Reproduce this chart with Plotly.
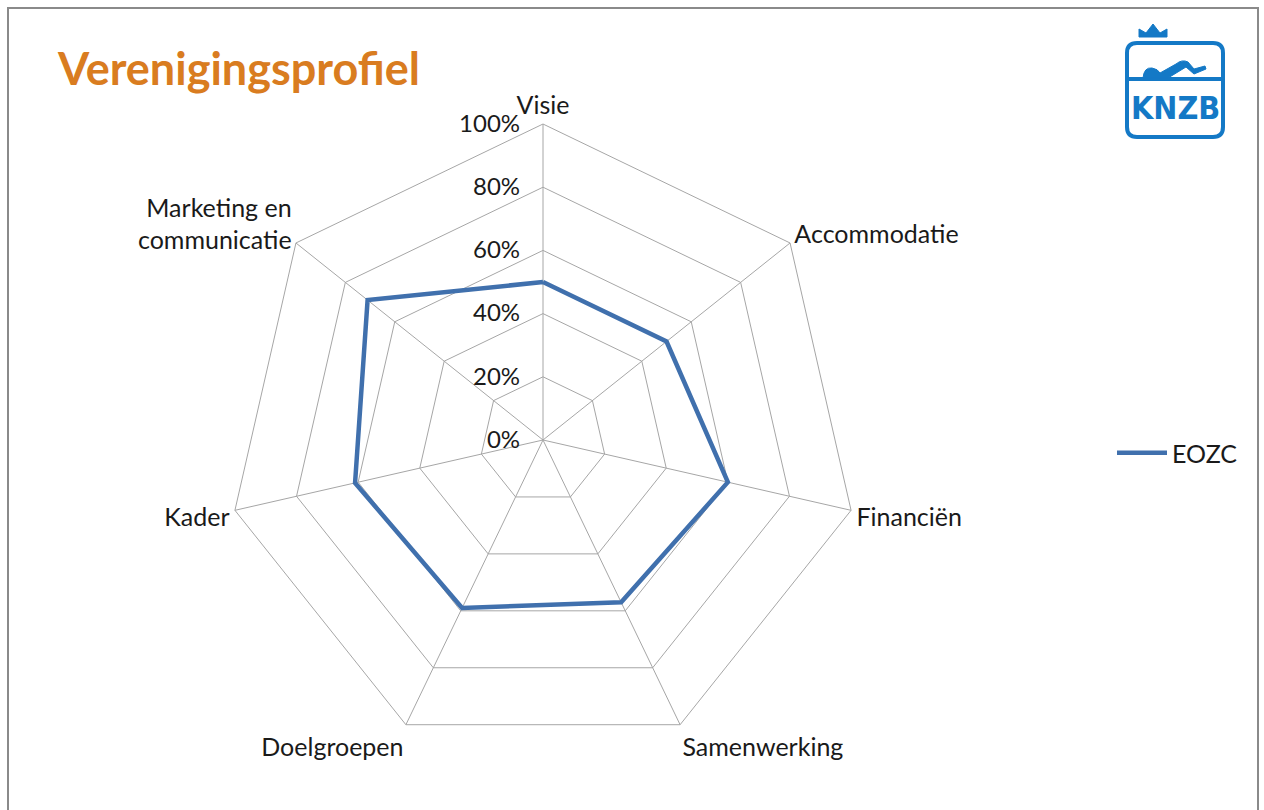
import plotly.graph_objects as go

categories = ["Visie", "Accommodatie", "Financiën", "Samenwerking",
              "Doelgroepen", "Kader", "Marketing en<br>communicatie"]
eozc = [0.50, 0.50, 0.60, 0.57, 0.59, 0.61, 0.71]
series_name = "EOZC"
radial_ticks = [0, 0.2, 0.4, 0.6, 0.8, 1.0]
radial_labels = ["0%", "20%", "40%", "60%", "80%", "100%"]

W, H = 1264, 810
def px(x): return x / W
def py(y): return 1 - y / H

cx, cy, R = 543, 440, 316

fig = go.Figure()
fig.add_trace(go.Scatterpolar(
    r=eozc + [eozc[0]], theta=categories + [categories[0]],
    mode="lines", name=series_name,
    line=dict(color="#4070AD", width=4.5),
))

FONT = "Lato, 'Open Sans', sans-serif"
fig.update_layout(
    width=W, height=H,
    margin=dict(l=0, r=0, t=0, b=0),
    paper_bgcolor="white", plot_bgcolor="white",
    font=dict(family=FONT, size=25, color="#1a1a1a"),
    polar=dict(
        domain=dict(x=[px(cx - R), px(cx + R)], y=[py(cy + R), py(cy - R)]),
        gridshape="linear",
        bgcolor="white",
        radialaxis=dict(range=[0, 1], tickvals=radial_ticks, ticktext=radial_labels,
                        angle=90, side="counterclockwise", tickangle=90,
                        showline=False, gridcolor="#a6a6a6", gridwidth=1,
                        ticks="outside", ticklen=14, tickcolor="rgba(0,0,0,0)",
                        tickfont=dict(size=24, color="#1a1a1a")),
        angularaxis=dict(direction="clockwise", rotation=90,
                         showline=True, linecolor="#a6a6a6", linewidth=1,
                         gridcolor="#a6a6a6", gridwidth=1, ticks="",
                         tickfont=dict(size=25, color="#1a1a1a")),
    ),
    legend=dict(x=px(1112), y=py(453), xanchor="left", yanchor="middle",
                font=dict(size=25, color="#1a1a1a"), itemwidth=50,
                bgcolor="rgba(0,0,0,0)"),
    showlegend=True,
)

# title
fig.add_annotation(text="<b>Verenigingsprofiel</b>", x=px(55), y=py(68),
                   xref="paper", yref="paper", xanchor="left", yanchor="middle",
                   showarrow=False, font=dict(family=FONT, size=45, color="#D97C20"))

# frame
fig.add_shape(type="rect", xref="paper", yref="paper",
              x0=px(8), x1=px(1258), y0=py(840), y1=py(8),
              line=dict(color="#8a8a8a", width=2), layer="above")

# logo
blue = "#1479C6"
def rr(x0, y0, x1, y1, r):
    return (f"M{px(x0+r)},{py(y0)} L{px(x1-r)},{py(y0)} Q{px(x1)},{py(y0)} {px(x1)},{py(y0+r)} "
            f"L{px(x1)},{py(y1-r)} Q{px(x1)},{py(y1)} {px(x1-r)},{py(y1)} L{px(x0+r)},{py(y1)} "
            f"Q{px(x0)},{py(y1)} {px(x0)},{py(y1-r)} L{px(x0)},{py(y0+r)} Q{px(x0)},{py(y0)} {px(x0+r)},{py(y0)} Z")
fig.add_shape(type="path", xref="paper", yref="paper", path=rr(1127, 43, 1223, 137, 10),
              line=dict(color=blue, width=4), fillcolor="rgba(0,0,0,0)")
fig.add_shape(type="line", xref="paper", yref="paper", x0=px(1127), x1=px(1223),
              y0=py(79), y1=py(79), line=dict(color=blue, width=4))
# swimmer
swim = (f"M{px(1143)},{py(78)} Q{px(1144)},{py(67)} {px(1152)},{py(68)} Q{px(1158)},{py(69)} {px(1160)},{py(73)} "
        f"L{px(1176)},{py(64)} Q{px(1182)},{py(59)} {px(1188)},{py(62)} L{px(1194)},{py(69)} "
        f"L{px(1205)},{py(66)} L{px(1206)},{py(69)} L{px(1194)},{py(74)} L{px(1186)},{py(67)} "
        f"L{px(1168)},{py(78)} Z")
fig.add_shape(type="path", xref="paper", yref="paper", path=swim,
              line=dict(color=blue, width=1), fillcolor=blue)
# crown
crown = (f"M{px(1139)},{py(37)} L{px(1139)},{py(29)} L{px(1146)},{py(33)} L{px(1153)},{py(24)} "
         f"L{px(1160)},{py(33)} L{px(1167)},{py(29)} L{px(1167)},{py(37)} Z")
fig.add_shape(type="path", xref="paper", yref="paper", path=crown,
              line=dict(color=blue, width=1), fillcolor=blue)
fig.add_annotation(text="<b>KNZB</b>", x=px(1175), y=py(108), xref="paper", yref="paper",
                   showarrow=False, xanchor="center", yanchor="middle",
                   font=dict(family="'Liberation Sans Narrow', 'DejaVu Sans Condensed', sans-serif",
                             size=32, color=blue))

fig.write_html("out.html", config={"displayModeBar": False},
               post_script="document.body.style.margin='0';document.body.style.overflow='hidden';")
